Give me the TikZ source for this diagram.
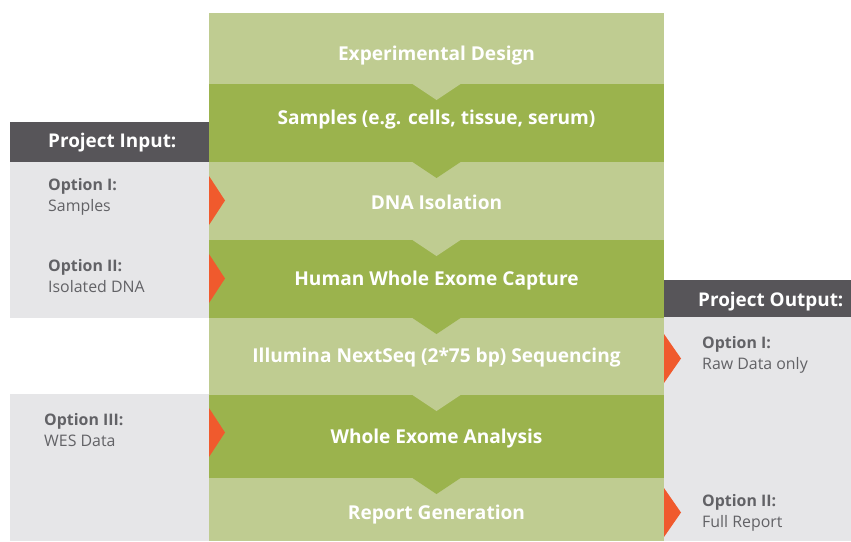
\documentclass[tikz,border=0pt]{standalone}
\usepackage{fontspec}
\setmainfont{Open Sans}
\definecolor{lgreen}{RGB}{191,204,145}
\definecolor{dgreen}{RGB}{155,179,77}
\definecolor{boxgrey}{RGB}{230,230,232}
\definecolor{hdrgrey}{RGB}{87,85,89}
\definecolor{txtgrey}{RGB}{98,98,102}
\definecolor{orng}{RGB}{240,90,45}
\begin{document}
\begin{tikzpicture}[x=1pt,y=-1pt,
  band/.style={anchor=north west,inner sep=0,outer sep=0,minimum width=455pt},
  title/.style={anchor=base,text=white,font=\bfseries\fontsize{19.1}{21}\selectfont,inner sep=0},
  hdr/.style={anchor=base west,text=white,font=\bfseries\fontsize{18.9}{21}\selectfont,inner sep=0},
  opt/.style={anchor=base west,text=txtgrey,font=\bfseries\fontsize{15.9}{18}\selectfont,inner sep=0},
  optv/.style={anchor=base west,text=txtgrey,font=\fontsize{15.9}{18}\selectfont,inner sep=0},
  arr/.style={fill=orng}]
\useasboundingbox (0,0) rectangle (851,541);
% side panels
\fill[hdrgrey] (10,122) rectangle (209,162);
\fill[boxgrey] (10,162) rectangle (209,318);
\fill[boxgrey] (10,394) rectangle (209,541);
\fill[hdrgrey] (664,280) rectangle (851,317);
\fill[boxgrey] (664,317) rectangle (851,541);
% bands
\node[band,fill=lgreen,minimum height=71pt] (b1) at (209,13) {};
\node[band,fill=dgreen,minimum height=78pt] (b2) at (209,84) {};
\node[band,fill=lgreen,minimum height=78pt] (b3) at (209,162) {};
\node[band,fill=dgreen,minimum height=78pt] (b4) at (209,240) {};
\node[band,fill=lgreen,minimum height=77pt] (b5) at (209,318) {};
\node[band,fill=dgreen,minimum height=83pt] (b6) at (209,395) {};
\node[band,fill=lgreen,minimum height=63pt] (b7) at (209,478) {};
% chevrons
\foreach \u/\c in {b1/lgreen,b2/dgreen,b3/lgreen,b4/dgreen,b5/lgreen,b6/dgreen}{
  \fill[\c] ([xshift=-24pt]\u.south) -- ([xshift=24pt]\u.south) -- ([yshift=-16pt]\u.south) -- cycle;
}
% titles
\node[title] (t1) at (436.5,60) {Experimental Design};
\node[title] (t2) at (436.5,124) {Samples (e.g. cells, tissue, serum)};
\node[title] (t3) at (436.5,209.5) {DNA Isolation};
\node[title] (t4) at (436.5,285.5) {Human Whole Exome Capture};
\node[title] (t5) at (436.5,362.5) {Illumina NextSeq (2*75 bp) Sequencing};
\node[title] (t6) at (436.5,443.5) {Whole Exome Analysis};
\node[title] (t7) at (436.5,519.5) {Report Generation};
% input
\node[hdr] (pin) at (48,147) {Project Input:};
\node[opt] (i1) at (48,190) {Option I:};
\node[optv] (i1v) at (48,211) {Samples};
\node[opt] (i2) at (48,271) {Option II:};
\node[optv] (i2v) at (48,292) {Isolated DNA};
\node[opt] (i3) at (44,425) {Option III:};
\node[optv] (i3v) at (44,446) {WES Data};
% output
\node[hdr] (pout) at (698,306) {Project Output:};
\node[opt] (o1) at (702,348) {Option I:};
\node[optv] (o1v) at (702,369) {Raw Data only};
\node[opt] (o2) at (702,506) {Option II:};
\node[optv] (o2v) at (702,527) {Full Report};
% orange arrows
\foreach \y in {176,254,408}{
  \fill[orng] (209,\y) -- (225,\y+24.5) -- (209,\y+49) -- cycle;
}
\foreach \y in {334,488}{
  \fill[orng] (664,\y) -- (681,\y+24.5) -- (664,\y+49) -- cycle;
}
\end{tikzpicture}
\end{document}
